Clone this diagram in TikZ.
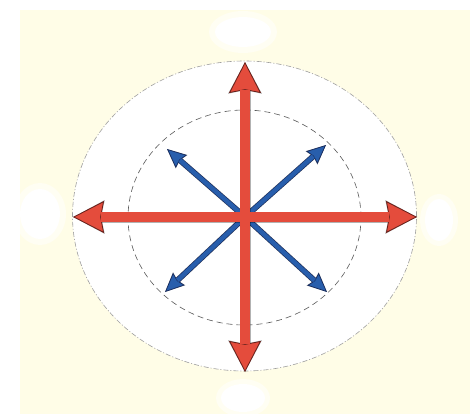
\documentclass[tikz,border=0pt]{standalone}
\usetikzlibrary{arrows.meta}

\definecolor{paper}{RGB}{255,253,231}
\definecolor{redarrow}{RGB}{228,76,60}
\definecolor{redrim}{RGB}{105,32,26}
\definecolor{bluearrow}{RGB}{40,94,172}
\definecolor{bluerim}{RGB}{22,42,92}

\tikzset{
  redrimline/.style={draw=redrim, line width=10.4pt, {Stealth[length=31pt,width=32pt,inset=3pt,line width=0.8pt,fill=redarrow]}-{Stealth[length=31pt,width=32pt,inset=3pt,line width=0.8pt,fill=redarrow]}},
  redfillline/.style={draw=redarrow, line width=9.2pt, shorten <=28pt, shorten >=28pt},
  bluerimline/.style={draw=bluerim, line width=5.6pt, -{Stealth[length=19pt,width=17pt,inset=2pt,line width=0.7pt,fill=bluearrow]}},
  bluefillline/.style={draw=bluearrow, line width=4.4pt, shorten >=17pt},
  shadowline/.style={draw=black, opacity=0.3, shift={(3,3)}},
  blob/.style={fill=white},
  blobhalo/.style={fill=white, opacity=0.5}
}

\begin{document}
\begin{tikzpicture}[x=1pt, y=-1pt]
		\useasboundingbox (0,0) rectangle (470,414);
		\fill[white] (0,0) rectangle (470,414);
		\fill[paper] (20,10) rectangle (470,414);
		% white spots round the rim
		\fill[blobhalo] (243,32) ellipse [x radius=34pt, y radius=21pt];
		\fill[blob] (243,32) ellipse [x radius=28pt, y radius=15pt];
		\fill[blobhalo] (40,214) ellipse [x radius=26pt, y radius=31pt];
		\fill[blob] (40,214) ellipse [x radius=20pt, y radius=25pt];
		\fill[blobhalo] (439,220) ellipse [x radius=19pt, y radius=26pt];
		\fill[blob] (439,220) ellipse [x radius=14pt, y radius=21pt];
		\fill[blobhalo] (243,398) ellipse [x radius=27pt, y radius=19pt];
		\fill[blob] (243,398) ellipse [x radius=22pt, y radius=14pt];
		% rings
		\filldraw[fill=white, draw=gray!75, line width=0.6pt, dash pattern=on 5pt off 2pt on 1pt off 2pt]
			(244.5,216) ellipse [x radius=172pt, y radius=155pt];
		\draw[gray!70!black, line width=0.6pt, dash pattern=on 6pt off 4pt]
			(244.5,217.5) ellipse [x radius=116.5pt, y radius=107.5pt];
		% ends of the arrows
		\coordinate (c) at (245,217);
		\coordinate (top) at (245,62);
		\coordinate (bot) at (245,372);
		\coordinate (lft) at (73,217);
		\coordinate (rgt) at (417,217);
		\coordinate (ul) at (167,149);
		\coordinate (ur) at (326,145);
		\coordinate (ll) at (165,292);
		\coordinate (lr) at (327,292);
		% blue arrows
		\foreach \e in {ul,ur,ll,lr}{
			\draw[shadowline, line width=6pt, -{Stealth[length=19pt,width=17pt,inset=2pt]}] (c) -- (\e);
		}
		\foreach \e in {ul,ur,ll,lr}{
			\draw[bluerimline] (c) -- (\e);
			\draw[bluefillline] (c) -- (\e);
		}
		% red arrows
		\draw[shadowline, line width=11pt, {Stealth[length=31pt,width=32pt,inset=3pt]}-{Stealth[length=31pt,width=32pt,inset=3pt]}] (top) -- (bot);
		\draw[shadowline, line width=11pt, {Stealth[length=31pt,width=32pt,inset=3pt]}-{Stealth[length=31pt,width=32pt,inset=3pt]}] (lft) -- (rgt);
		\draw[redrimline] (top) -- (bot);
		\draw[redrimline] (lft) -- (rgt);
		\draw[redfillline] (top) -- (bot);
		\draw[redfillline] (lft) -- (rgt);
	\end{tikzpicture}
\end{document}
